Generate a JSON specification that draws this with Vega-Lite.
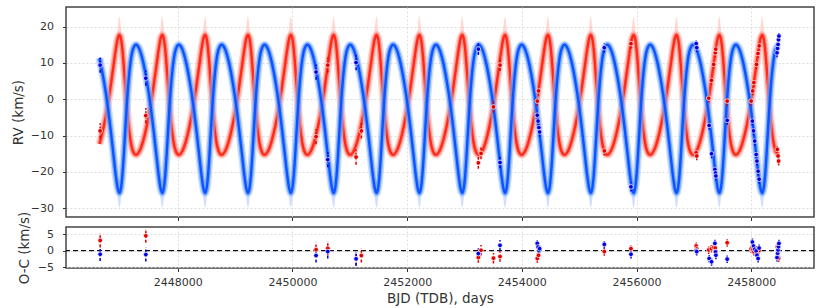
{
"$schema":"https://vega.github.io/schema/vega-lite/v6.json",
"padding":{"left":10,"top":6,"right":16,"bottom":4},
"spacing":10,
"bounds":"flush",
"config":{
 "font":"DejaVu Sans",
 "view":{"stroke":"#444","strokeWidth":1.5},
 "axis":{"labelFont":"DejaVu Sans","labelFontSize":11,"labelColor":"#333","titleFont":"DejaVu Sans","titleFontSize":13.5,"titleFontWeight":"normal","titleColor":"#333","tickColor":"#333","tickSize":3.5,"domain":false,"grid":true,"gridColor":"#d6d6d6","gridDash":[2,2],"gridWidth":0.8},
 "axisX":{"labelPadding":5,"titlePadding":4},
 "axisY":{"labelPadding":9,"titlePadding":7}
},
"datasets":{
"curve":[
{"t":2446634,"b":11.3,"r":-12.3},
{"t":2446647,"b":10.3,"r":-11.5},{"t":2446714,"b":4.8,"r":-7.1},{"t":2446777,"b":-1.8,"r":-1.7},{"t":2446832,"b":-8.9,"r":4.0},{"t":2446880,"b":-15.6,"r":9.4},{"t":2446919,"b":-21.0,"r":13.8},{"t":2446952,"b":-24.5,"r":16.7},
{"t":2446982,"b":-25.8,"r":17.7},{"t":2447008,"b":-24.5,"r":16.7},{"t":2447033,"b":-21.0,"r":13.8},{"t":2447057,"b":-15.6,"r":9.4},{"t":2447082,"b":-8.9,"r":4.0},{"t":2447109,"b":-1.8,"r":-1.7},{"t":2447140,"b":4.8,"r":-7.1},{"t":2447176,"b":10.3,"r":-11.5},{"t":2447219,"b":13.8,"r":-14.3},{"t":2447271,"b":15.0,"r":-15.3},{"t":2447330,"b":13.8,"r":-14.3},{"t":2447395,"b":10.3,"r":-11.5},{"t":2447462,"b":4.8,"r":-7.1},{"t":2447525,"b":-1.8,"r":-1.7},{"t":2447580,"b":-8.9,"r":4.0},{"t":2447628,"b":-15.6,"r":9.4},{"t":2447667,"b":-21.0,"r":13.8},{"t":2447700,"b":-24.5,"r":16.7},
{"t":2447729,"b":-25.8,"r":17.7},{"t":2447755,"b":-24.5,"r":16.7},{"t":2447780,"b":-21.0,"r":13.8},{"t":2447804,"b":-15.6,"r":9.4},{"t":2447829,"b":-8.9,"r":4.0},{"t":2447856,"b":-1.8,"r":-1.7},{"t":2447887,"b":4.8,"r":-7.1},{"t":2447923,"b":10.3,"r":-11.5},{"t":2447966,"b":13.8,"r":-14.3},{"t":2448018,"b":15.0,"r":-15.3},{"t":2448077,"b":13.8,"r":-14.3},{"t":2448142,"b":10.3,"r":-11.5},{"t":2448209,"b":4.8,"r":-7.1},{"t":2448272,"b":-1.8,"r":-1.7},{"t":2448327,"b":-8.9,"r":4.0},{"t":2448375,"b":-15.6,"r":9.4},{"t":2448414,"b":-21.0,"r":13.8},{"t":2448447,"b":-24.5,"r":16.7},
{"t":2448476,"b":-25.8,"r":17.7},{"t":2448502,"b":-24.5,"r":16.7},{"t":2448527,"b":-21.0,"r":13.8},{"t":2448551,"b":-15.6,"r":9.4},{"t":2448576,"b":-8.9,"r":4.0},{"t":2448603,"b":-1.8,"r":-1.7},{"t":2448634,"b":4.8,"r":-7.1},{"t":2448670,"b":10.3,"r":-11.5},{"t":2448713,"b":13.8,"r":-14.3},{"t":2448765,"b":15.0,"r":-15.3},{"t":2448824,"b":13.8,"r":-14.3},{"t":2448889,"b":10.3,"r":-11.5},{"t":2448956,"b":4.8,"r":-7.1},{"t":2449019,"b":-1.8,"r":-1.7},{"t":2449074,"b":-8.9,"r":4.0},{"t":2449122,"b":-15.6,"r":9.4},{"t":2449161,"b":-21.0,"r":13.8},{"t":2449194,"b":-24.5,"r":16.7},
{"t":2449224,"b":-25.8,"r":17.7},{"t":2449250,"b":-24.5,"r":16.7},{"t":2449275,"b":-21.0,"r":13.8},{"t":2449299,"b":-15.6,"r":9.4},{"t":2449324,"b":-8.9,"r":4.0},{"t":2449351,"b":-1.8,"r":-1.7},{"t":2449382,"b":4.8,"r":-7.1},{"t":2449418,"b":10.3,"r":-11.5},{"t":2449461,"b":13.8,"r":-14.3},{"t":2449513,"b":15.0,"r":-15.3},{"t":2449572,"b":13.8,"r":-14.3},{"t":2449637,"b":10.3,"r":-11.5},{"t":2449704,"b":4.8,"r":-7.1},{"t":2449767,"b":-1.8,"r":-1.7},{"t":2449822,"b":-8.9,"r":4.0},{"t":2449870,"b":-15.6,"r":9.4},{"t":2449909,"b":-21.0,"r":13.8},{"t":2449942,"b":-24.5,"r":16.7},
{"t":2449971,"b":-25.8,"r":17.7},{"t":2449997,"b":-24.5,"r":16.7},{"t":2450022,"b":-21.0,"r":13.8},{"t":2450046,"b":-15.6,"r":9.4},{"t":2450071,"b":-8.9,"r":4.0},{"t":2450098,"b":-1.8,"r":-1.7},{"t":2450129,"b":4.8,"r":-7.1},{"t":2450165,"b":10.3,"r":-11.5},{"t":2450208,"b":13.8,"r":-14.3},{"t":2450260,"b":15.0,"r":-15.3},{"t":2450319,"b":13.8,"r":-14.3},{"t":2450384,"b":10.3,"r":-11.5},{"t":2450451,"b":4.8,"r":-7.1},{"t":2450514,"b":-1.8,"r":-1.7},{"t":2450569,"b":-8.9,"r":4.0},{"t":2450617,"b":-15.6,"r":9.4},{"t":2450656,"b":-21.0,"r":13.8},{"t":2450689,"b":-24.5,"r":16.7},
{"t":2450718,"b":-25.8,"r":17.7},{"t":2450744,"b":-24.5,"r":16.7},{"t":2450769,"b":-21.0,"r":13.8},{"t":2450793,"b":-15.6,"r":9.4},{"t":2450818,"b":-8.9,"r":4.0},{"t":2450845,"b":-1.8,"r":-1.7},{"t":2450876,"b":4.8,"r":-7.1},{"t":2450912,"b":10.3,"r":-11.5},{"t":2450955,"b":13.8,"r":-14.3},{"t":2451007,"b":15.0,"r":-15.3},{"t":2451066,"b":13.8,"r":-14.3},{"t":2451131,"b":10.3,"r":-11.5},{"t":2451198,"b":4.8,"r":-7.1},{"t":2451261,"b":-1.8,"r":-1.7},{"t":2451316,"b":-8.9,"r":4.0},{"t":2451364,"b":-15.6,"r":9.4},{"t":2451403,"b":-21.0,"r":13.8},{"t":2451436,"b":-24.5,"r":16.7},
{"t":2451466,"b":-25.8,"r":17.7},{"t":2451492,"b":-24.5,"r":16.7},{"t":2451517,"b":-21.0,"r":13.8},{"t":2451541,"b":-15.6,"r":9.4},{"t":2451566,"b":-8.9,"r":4.0},{"t":2451593,"b":-1.8,"r":-1.7},{"t":2451624,"b":4.8,"r":-7.1},{"t":2451660,"b":10.3,"r":-11.5},{"t":2451703,"b":13.8,"r":-14.3},{"t":2451755,"b":15.0,"r":-15.3},{"t":2451814,"b":13.8,"r":-14.3},{"t":2451879,"b":10.3,"r":-11.5},{"t":2451946,"b":4.8,"r":-7.1},{"t":2452009,"b":-1.8,"r":-1.7},{"t":2452064,"b":-8.9,"r":4.0},{"t":2452112,"b":-15.6,"r":9.4},{"t":2452151,"b":-21.0,"r":13.8},{"t":2452184,"b":-24.5,"r":16.7},
{"t":2452213,"b":-25.8,"r":17.7},{"t":2452239,"b":-24.5,"r":16.7},{"t":2452264,"b":-21.0,"r":13.8},{"t":2452288,"b":-15.6,"r":9.4},{"t":2452313,"b":-8.9,"r":4.0},{"t":2452340,"b":-1.8,"r":-1.7},{"t":2452371,"b":4.8,"r":-7.1},{"t":2452407,"b":10.3,"r":-11.5},{"t":2452450,"b":13.8,"r":-14.3},{"t":2452502,"b":15.0,"r":-15.3},{"t":2452561,"b":13.8,"r":-14.3},{"t":2452626,"b":10.3,"r":-11.5},{"t":2452693,"b":4.8,"r":-7.1},{"t":2452756,"b":-1.8,"r":-1.7},{"t":2452811,"b":-8.9,"r":4.0},{"t":2452859,"b":-15.6,"r":9.4},{"t":2452898,"b":-21.0,"r":13.8},{"t":2452931,"b":-24.5,"r":16.7},
{"t":2452960,"b":-25.8,"r":17.7},{"t":2452986,"b":-24.5,"r":16.7},{"t":2453011,"b":-21.0,"r":13.8},{"t":2453035,"b":-15.6,"r":9.4},{"t":2453060,"b":-8.9,"r":4.0},{"t":2453087,"b":-1.8,"r":-1.7},{"t":2453118,"b":4.8,"r":-7.1},{"t":2453154,"b":10.3,"r":-11.5},{"t":2453197,"b":13.8,"r":-14.3},{"t":2453249,"b":15.0,"r":-15.3},{"t":2453308,"b":13.8,"r":-14.3},{"t":2453373,"b":10.3,"r":-11.5},{"t":2453440,"b":4.8,"r":-7.1},{"t":2453503,"b":-1.8,"r":-1.7},{"t":2453558,"b":-8.9,"r":4.0},{"t":2453606,"b":-15.6,"r":9.4},{"t":2453645,"b":-21.0,"r":13.8},{"t":2453678,"b":-24.5,"r":16.7},
{"t":2453707,"b":-25.8,"r":17.7},{"t":2453733,"b":-24.5,"r":16.7},{"t":2453758,"b":-21.0,"r":13.8},{"t":2453782,"b":-15.6,"r":9.4},{"t":2453807,"b":-8.9,"r":4.0},{"t":2453834,"b":-1.8,"r":-1.7},{"t":2453865,"b":4.8,"r":-7.1},{"t":2453901,"b":10.3,"r":-11.5},{"t":2453944,"b":13.8,"r":-14.3},{"t":2453996,"b":15.0,"r":-15.3},{"t":2454055,"b":13.8,"r":-14.3},{"t":2454120,"b":10.3,"r":-11.5},{"t":2454187,"b":4.8,"r":-7.1},{"t":2454250,"b":-1.8,"r":-1.7},{"t":2454305,"b":-8.9,"r":4.0},{"t":2454353,"b":-15.6,"r":9.4},{"t":2454392,"b":-21.0,"r":13.8},{"t":2454425,"b":-24.5,"r":16.7},
{"t":2454455,"b":-25.8,"r":17.7},{"t":2454481,"b":-24.5,"r":16.7},{"t":2454506,"b":-21.0,"r":13.8},{"t":2454530,"b":-15.6,"r":9.4},{"t":2454555,"b":-8.9,"r":4.0},{"t":2454582,"b":-1.8,"r":-1.7},{"t":2454613,"b":4.8,"r":-7.1},{"t":2454649,"b":10.3,"r":-11.5},{"t":2454692,"b":13.8,"r":-14.3},{"t":2454744,"b":15.0,"r":-15.3},{"t":2454803,"b":13.8,"r":-14.3},{"t":2454868,"b":10.3,"r":-11.5},{"t":2454935,"b":4.8,"r":-7.1},{"t":2454998,"b":-1.8,"r":-1.7},{"t":2455053,"b":-8.9,"r":4.0},{"t":2455101,"b":-15.6,"r":9.4},{"t":2455140,"b":-21.0,"r":13.8},{"t":2455173,"b":-24.5,"r":16.7},
{"t":2455202,"b":-25.8,"r":17.7},{"t":2455228,"b":-24.5,"r":16.7},{"t":2455253,"b":-21.0,"r":13.8},{"t":2455277,"b":-15.6,"r":9.4},{"t":2455302,"b":-8.9,"r":4.0},{"t":2455329,"b":-1.8,"r":-1.7},{"t":2455360,"b":4.8,"r":-7.1},{"t":2455396,"b":10.3,"r":-11.5},{"t":2455439,"b":13.8,"r":-14.3},{"t":2455491,"b":15.0,"r":-15.3},{"t":2455550,"b":13.8,"r":-14.3},{"t":2455615,"b":10.3,"r":-11.5},{"t":2455682,"b":4.8,"r":-7.1},{"t":2455745,"b":-1.8,"r":-1.7},{"t":2455800,"b":-8.9,"r":4.0},{"t":2455848,"b":-15.6,"r":9.4},{"t":2455887,"b":-21.0,"r":13.8},{"t":2455920,"b":-24.5,"r":16.7},
{"t":2455949,"b":-25.8,"r":17.7},{"t":2455975,"b":-24.5,"r":16.7},{"t":2456000,"b":-21.0,"r":13.8},{"t":2456024,"b":-15.6,"r":9.4},{"t":2456049,"b":-8.9,"r":4.0},{"t":2456076,"b":-1.8,"r":-1.7},{"t":2456107,"b":4.8,"r":-7.1},{"t":2456143,"b":10.3,"r":-11.5},{"t":2456186,"b":13.8,"r":-14.3},{"t":2456238,"b":15.0,"r":-15.3},{"t":2456297,"b":13.8,"r":-14.3},{"t":2456362,"b":10.3,"r":-11.5},{"t":2456429,"b":4.8,"r":-7.1},{"t":2456492,"b":-1.8,"r":-1.7},{"t":2456547,"b":-8.9,"r":4.0},{"t":2456595,"b":-15.6,"r":9.4},{"t":2456634,"b":-21.0,"r":13.8},{"t":2456667,"b":-24.5,"r":16.7},
{"t":2456697,"b":-25.8,"r":17.7},{"t":2456723,"b":-24.5,"r":16.7},{"t":2456748,"b":-21.0,"r":13.8},{"t":2456772,"b":-15.6,"r":9.4},{"t":2456797,"b":-8.9,"r":4.0},{"t":2456824,"b":-1.8,"r":-1.7},{"t":2456855,"b":4.8,"r":-7.1},{"t":2456891,"b":10.3,"r":-11.5},{"t":2456934,"b":13.8,"r":-14.3},{"t":2456986,"b":15.0,"r":-15.3},{"t":2457045,"b":13.8,"r":-14.3},{"t":2457110,"b":10.3,"r":-11.5},{"t":2457177,"b":4.8,"r":-7.1},{"t":2457240,"b":-1.8,"r":-1.7},{"t":2457295,"b":-8.9,"r":4.0},{"t":2457343,"b":-15.6,"r":9.4},{"t":2457382,"b":-21.0,"r":13.8},{"t":2457415,"b":-24.5,"r":16.7},
{"t":2457444,"b":-25.8,"r":17.7},{"t":2457470,"b":-24.5,"r":16.7},{"t":2457495,"b":-21.0,"r":13.8},{"t":2457519,"b":-15.6,"r":9.4},{"t":2457544,"b":-8.9,"r":4.0},{"t":2457571,"b":-1.8,"r":-1.7},{"t":2457602,"b":4.8,"r":-7.1},{"t":2457638,"b":10.3,"r":-11.5},{"t":2457681,"b":13.8,"r":-14.3},{"t":2457733,"b":15.0,"r":-15.3},{"t":2457792,"b":13.8,"r":-14.3},{"t":2457857,"b":10.3,"r":-11.5},{"t":2457924,"b":4.8,"r":-7.1},{"t":2457987,"b":-1.8,"r":-1.7},{"t":2458042,"b":-8.9,"r":4.0},{"t":2458090,"b":-15.6,"r":9.4},{"t":2458129,"b":-21.0,"r":13.8},{"t":2458162,"b":-24.5,"r":16.7},
{"t":2458191,"b":-25.8,"r":17.7},{"t":2458217,"b":-24.5,"r":16.7},{"t":2458242,"b":-21.0,"r":13.8},{"t":2458266,"b":-15.6,"r":9.4},{"t":2458291,"b":-8.9,"r":4.0},{"t":2458318,"b":-1.8,"r":-1.7},{"t":2458349,"b":4.8,"r":-7.1},{"t":2458385,"b":10.3,"r":-11.5},{"t":2458428,"b":13.8,"r":-14.3},{"t":2458480,"b":15.0,"r":-15.3}
],
"env":[
{"c":0,"t":2446920,"r":13.8,"rh":14.6,"b":-21.0,"bl":-21.8},{"c":0,"t":2446953,"r":16.7,"rh":19.8,"b":-24.5,"bl":-27.5},{"c":0,"t":2446982,"r":17.7,"rh":22.8,"b":-25.8,"bl":-29.8},{"c":0,"t":2447008,"r":16.7,"rh":19.8,"b":-24.5,"bl":-27.5},{"c":0,"t":2447033,"r":13.8,"rh":14.6,"b":-21.0,"bl":-21.8},
{"c":1,"t":2447667,"r":13.8,"rh":14.6,"b":-21.0,"bl":-21.8},{"c":1,"t":2447700,"r":16.7,"rh":19.8,"b":-24.5,"bl":-27.5},{"c":1,"t":2447729,"r":17.7,"rh":22.8,"b":-25.8,"bl":-29.8},{"c":1,"t":2447755,"r":16.7,"rh":19.8,"b":-24.5,"bl":-27.5},{"c":1,"t":2447780,"r":13.8,"rh":14.6,"b":-21.0,"bl":-21.8},
{"c":2,"t":2448414,"r":13.8,"rh":14.6,"b":-21.0,"bl":-21.8},{"c":2,"t":2448447,"r":16.7,"rh":19.8,"b":-24.5,"bl":-27.5},{"c":2,"t":2448476,"r":17.7,"rh":22.8,"b":-25.8,"bl":-29.8},{"c":2,"t":2448502,"r":16.7,"rh":19.8,"b":-24.5,"bl":-27.5},{"c":2,"t":2448527,"r":13.8,"rh":14.6,"b":-21.0,"bl":-21.8},
{"c":3,"t":2449162,"r":13.8,"rh":14.6,"b":-21.0,"bl":-21.8},{"c":3,"t":2449195,"r":16.7,"rh":19.8,"b":-24.5,"bl":-27.5},{"c":3,"t":2449224,"r":17.7,"rh":22.8,"b":-25.8,"bl":-29.8},{"c":3,"t":2449250,"r":16.7,"rh":19.8,"b":-24.5,"bl":-27.5},{"c":3,"t":2449275,"r":13.8,"rh":14.6,"b":-21.0,"bl":-21.8},
{"c":4,"t":2449909,"r":13.8,"rh":14.6,"b":-21.0,"bl":-21.8},{"c":4,"t":2449942,"r":16.7,"rh":19.8,"b":-24.5,"bl":-27.5},{"c":4,"t":2449971,"r":17.7,"rh":22.8,"b":-25.8,"bl":-29.8},{"c":4,"t":2449997,"r":16.7,"rh":19.8,"b":-24.5,"bl":-27.5},{"c":4,"t":2450022,"r":13.8,"rh":14.6,"b":-21.0,"bl":-21.8},
{"c":5,"t":2450656,"r":13.8,"rh":14.6,"b":-21.0,"bl":-21.8},{"c":5,"t":2450689,"r":16.7,"rh":19.8,"b":-24.5,"bl":-27.5},{"c":5,"t":2450718,"r":17.7,"rh":22.8,"b":-25.8,"bl":-29.8},{"c":5,"t":2450744,"r":16.7,"rh":19.8,"b":-24.5,"bl":-27.5},{"c":5,"t":2450769,"r":13.8,"rh":14.6,"b":-21.0,"bl":-21.8},
{"c":6,"t":2451404,"r":13.8,"rh":14.6,"b":-21.0,"bl":-21.8},{"c":6,"t":2451437,"r":16.7,"rh":19.8,"b":-24.5,"bl":-27.5},{"c":6,"t":2451466,"r":17.7,"rh":22.8,"b":-25.8,"bl":-29.8},{"c":6,"t":2451492,"r":16.7,"rh":19.8,"b":-24.5,"bl":-27.5},{"c":6,"t":2451517,"r":13.8,"rh":14.6,"b":-21.0,"bl":-21.8},
{"c":7,"t":2452151,"r":13.8,"rh":14.6,"b":-21.0,"bl":-21.8},{"c":7,"t":2452184,"r":16.7,"rh":19.8,"b":-24.5,"bl":-27.5},{"c":7,"t":2452213,"r":17.7,"rh":22.8,"b":-25.8,"bl":-29.8},{"c":7,"t":2452239,"r":16.7,"rh":19.8,"b":-24.5,"bl":-27.5},{"c":7,"t":2452264,"r":13.8,"rh":14.6,"b":-21.0,"bl":-21.8},
{"c":8,"t":2452898,"r":13.8,"rh":14.6,"b":-21.0,"bl":-21.8},{"c":8,"t":2452931,"r":16.7,"rh":19.8,"b":-24.5,"bl":-27.5},{"c":8,"t":2452960,"r":17.7,"rh":22.8,"b":-25.8,"bl":-29.8},{"c":8,"t":2452986,"r":16.7,"rh":19.8,"b":-24.5,"bl":-27.5},{"c":8,"t":2453011,"r":13.8,"rh":14.6,"b":-21.0,"bl":-21.8},
{"c":9,"t":2453645,"r":13.8,"rh":14.6,"b":-21.0,"bl":-21.8},{"c":9,"t":2453678,"r":16.7,"rh":19.8,"b":-24.5,"bl":-27.5},{"c":9,"t":2453707,"r":17.7,"rh":22.8,"b":-25.8,"bl":-29.8},{"c":9,"t":2453733,"r":16.7,"rh":19.8,"b":-24.5,"bl":-27.5},{"c":9,"t":2453758,"r":13.8,"rh":14.6,"b":-21.0,"bl":-21.8},
{"c":10,"t":2454393,"r":13.8,"rh":14.6,"b":-21.0,"bl":-21.8},{"c":10,"t":2454426,"r":16.7,"rh":19.8,"b":-24.5,"bl":-27.5},{"c":10,"t":2454455,"r":17.7,"rh":22.8,"b":-25.8,"bl":-29.8},{"c":10,"t":2454481,"r":16.7,"rh":19.8,"b":-24.5,"bl":-27.5},{"c":10,"t":2454506,"r":13.8,"rh":14.6,"b":-21.0,"bl":-21.8},
{"c":11,"t":2455140,"r":13.8,"rh":14.6,"b":-21.0,"bl":-21.8},{"c":11,"t":2455173,"r":16.7,"rh":19.8,"b":-24.5,"bl":-27.5},{"c":11,"t":2455202,"r":17.7,"rh":22.8,"b":-25.8,"bl":-29.8},{"c":11,"t":2455228,"r":16.7,"rh":19.8,"b":-24.5,"bl":-27.5},{"c":11,"t":2455253,"r":13.8,"rh":14.6,"b":-21.0,"bl":-21.8},
{"c":12,"t":2455887,"r":13.8,"rh":14.6,"b":-21.0,"bl":-21.8},{"c":12,"t":2455920,"r":16.7,"rh":19.8,"b":-24.5,"bl":-27.5},{"c":12,"t":2455949,"r":17.7,"rh":22.8,"b":-25.8,"bl":-29.8},{"c":12,"t":2455975,"r":16.7,"rh":19.8,"b":-24.5,"bl":-27.5},{"c":12,"t":2456000,"r":13.8,"rh":14.6,"b":-21.0,"bl":-21.8},
{"c":13,"t":2456635,"r":13.8,"rh":14.6,"b":-21.0,"bl":-21.8},{"c":13,"t":2456668,"r":16.7,"rh":19.8,"b":-24.5,"bl":-27.5},{"c":13,"t":2456697,"r":17.7,"rh":22.8,"b":-25.8,"bl":-29.8},{"c":13,"t":2456723,"r":16.7,"rh":19.8,"b":-24.5,"bl":-27.5},{"c":13,"t":2456748,"r":13.8,"rh":14.6,"b":-21.0,"bl":-21.8},
{"c":14,"t":2457382,"r":13.8,"rh":14.6,"b":-21.0,"bl":-21.8},{"c":14,"t":2457415,"r":16.7,"rh":19.8,"b":-24.5,"bl":-27.5},{"c":14,"t":2457444,"r":17.7,"rh":22.8,"b":-25.8,"bl":-29.8},{"c":14,"t":2457470,"r":16.7,"rh":19.8,"b":-24.5,"bl":-27.5},{"c":14,"t":2457495,"r":13.8,"rh":14.6,"b":-21.0,"bl":-21.8},
{"c":15,"t":2458129,"r":13.8,"rh":14.6,"b":-21.0,"bl":-21.8},{"c":15,"t":2458162,"r":16.7,"rh":19.8,"b":-24.5,"bl":-27.5},{"c":15,"t":2458191,"r":17.7,"rh":22.8,"b":-25.8,"bl":-29.8},{"c":15,"t":2458217,"r":16.7,"rh":19.8,"b":-24.5,"bl":-27.5},{"c":15,"t":2458242,"r":13.8,"rh":14.6,"b":-21.0,"bl":-21.8}
],
"obsb":[
{"t":2446646,"v":9.4,"oc":-1.1,"e":2.1},{"t":2447442,"v":5.8,"oc":-1.2,"e":2.1},{"t":2450411,"v":7.5,"oc":-1.5,"e":2.1},{"t":2450615,"v":-16.6,"oc":-0.3,"e":2.1},{"t":2451109,"v":10.1,"oc":-2.5,"e":2.1},
{"t":2453241,"v":13.8,"oc":-0.9,"e":1.6},{"t":2453619,"v":-17.4,"oc":1.6,"e":1.6},
{"t":2454269,"v":-4.4,"oc":2.2,"e":1.3},{"t":2454283,"v":-6.0,"oc":1.1,"e":1.3},{"t":2454297,"v":-7.8,"oc":0.0,"e":1.3},{"t":2454310,"v":-9.0,"oc":0.6,"e":1.3},
{"t":2455438,"v":14.2,"oc":1.9,"e":1.3},{"t":2455903,"v":-24.1,"oc":-1.1,"e":1.3},
{"t":2457040,"v":15.3,"oc":0.0,"e":1.2},{"t":2457050,"v":14.2,"oc":-0.3,"e":1.2},
{"t":2457267,"v":-7.2,"oc":-2.4,"e":1.2},{"t":2457309,"v":-15.0,"oc":-3.4,"e":1.2},{"t":2457367,"v":-19.3,"oc":2.2,"e":1.2},{"t":2457377,"v":-20.3,"oc":-0.4,"e":1.2},{"t":2457384,"v":-21.1,"oc":-1.4,"e":1.2},
{"t":2457581,"v":-5.8,"oc":-2.6,"e":1.2},
{"t":2458020,"v":-6.0,"oc":2.6,"e":1.2},{"t":2458040,"v":-8.7,"oc":1.4,"e":1.2},{"t":2458061,"v":-11.5,"oc":0.4,"e":1.2},{"t":2458087,"v":-15.2,"oc":-0.1,"e":1.2},{"t":2458100,"v":-17.0,"oc":-1.4,"e":1.2},{"t":2458120,"v":-19.8,"oc":-2.4,"e":1.2},{"t":2458138,"v":-22.0,"oc":0.8,"e":1.2},
{"t":2458450,"v":12.8,"oc":-2.1,"e":1.2},{"t":2458460,"v":14.0,"oc":-0.8,"e":1.2},{"t":2458468,"v":15.1,"oc":0.2,"e":1.2},{"t":2458476,"v":16.4,"oc":1.2,"e":1.2},{"t":2458484,"v":17.4,"oc":2.2,"e":1.2}
],
"obsr":[
{"t":2446646,"v":-8.7,"oc":3.1,"e":2.1},{"t":2447442,"v":-4.5,"oc":4.5,"e":2.1},{"t":2450411,"v":-10.3,"oc":0.3,"e":2.1},{"t":2450615,"v":9.4,"oc":0.7,"e":2.1},{"t":2451109,"v":-15.9,"oc":-2.5,"e":2.1},{"t":2451201,"v":-8.7,"oc":-1.5,"e":2.1},
{"t":2453241,"v":-17.5,"oc":-2.1,"e":1.6},{"t":2453288,"v":-14.9,"oc":0.1,"e":1.6},{"t":2453505,"v":-2.1,"oc":-2.3,"e":1.6},{"t":2453619,"v":9.4,"oc":-1.8,"e":1.6},
{"t":2454269,"v":-0.5,"oc":-2.4,"e":1.3},{"t":2454290,"v":2.3,"oc":-1.4,"e":1.3},
{"t":2455438,"v":-14.2,"oc":-0.3,"e":1.3},{"t":2455903,"v":15.3,"oc":0.6,"e":1.3},
{"t":2457040,"v":-14.7,"oc":1.4,"e":1.2},{"t":2457050,"v":-15.6,"oc":0.5,"e":1.2},
{"t":2457259,"v":0.3,"oc":0.2,"e":1.2},{"t":2457306,"v":5.2,"oc":0.6,"e":1.2},{"t":2457345,"v":9.6,"oc":1.0,"e":1.2},{"t":2457373,"v":12.8,"oc":0.8,"e":1.2},{"t":2457382,"v":13.8,"oc":-0.3,"e":1.2},
{"t":2457581,"v":-0.5,"oc":2.4,"e":1.2},
{"t":2457999,"v":-0.5,"oc":0.5,"e":1.2},{"t":2458026,"v":2.3,"oc":0.2,"e":1.2},{"t":2458047,"v":4.6,"oc":-0.3,"e":1.2},{"t":2458092,"v":9.6,"oc":0.3,"e":1.2},{"t":2458118,"v":12.6,"oc":-0.5,"e":1.2},{"t":2458139,"v":14.7,"oc":0.1,"e":1.2},
{"t":2458455,"v":-13.8,"oc":1.2,"e":1.2},{"t":2458468,"v":-15.6,"oc":-0.6,"e":1.2},{"t":2458478,"v":-17.0,"oc":-2.3,"e":1.2}
]
},
"vconcat":[
{
 "width":748,"height":210,
 "encoding":{"x":{"field":"t","type":"quantitative","scale":{"domain":[2446050,2459095],"nice":false,"zero":false},"axis":{"values":[2448000,2450000,2452000,2454000,2456000,2458000],"labels":false,"title":null,"minExtent":0,"maxExtent":4}}},
 "layer":[
  {"data":{"name":"env"},"mark":{"type":"area","color":"#ff9a90","opacity":0.4,"interpolate":"monotone"},
   "encoding":{"y":{"field":"r","type":"quantitative","title":"RV (km/s)","scale":{"domain":[-32.4,25.4],"nice":false,"zero":false},"axis":{"values":[-30,-20,-10,0,10,20],"titleX":-41}},"y2":{"field":"rh"},"detail":{"field":"c"}}},
  {"data":{"name":"env"},"mark":{"type":"area","color":"#94bbff","opacity":0.45,"interpolate":"monotone"},
   "encoding":{"y":{"field":"bl","type":"quantitative","title":"RV (km/s)","scale":{"domain":[-32.4,25.4],"nice":false,"zero":false},"axis":{"values":[-30,-20,-10,0,10,20],"titleX":-41}},"y2":{"field":"b"},"detail":{"field":"c"}}},
  {"data":{"name":"curve"},"mark":{"type":"line","color":"#ffa49b","strokeWidth":8,"opacity":0.45,"interpolate":"monotone"},
   "encoding":{"y":{"field":"r","type":"quantitative","title":"RV (km/s)","scale":{"domain":[-32.4,25.4],"nice":false,"zero":false},"axis":{"values":[-30,-20,-10,0,10,20],"titleX":-41}}}},
  {"data":{"name":"curve"},"mark":{"type":"line","color":"#ff6a5c","strokeWidth":5,"opacity":0.6,"interpolate":"monotone"},
   "encoding":{"y":{"field":"r","type":"quantitative","title":"RV (km/s)","scale":{"domain":[-32.4,25.4],"nice":false,"zero":false},"axis":{"values":[-30,-20,-10,0,10,20],"titleX":-41}}}},
  {"data":{"name":"curve"},"mark":{"type":"line","color":"#ff2a1a","strokeWidth":2.4,"interpolate":"monotone"},
   "encoding":{"y":{"field":"r","type":"quantitative","title":"RV (km/s)","scale":{"domain":[-32.4,25.4],"nice":false,"zero":false},"axis":{"values":[-30,-20,-10,0,10,20],"titleX":-41}}}},
  {"data":{"name":"curve"},"mark":{"type":"line","color":"#9cc0ff","strokeWidth":8,"opacity":0.5,"interpolate":"monotone"},
   "encoding":{"y":{"field":"b","type":"quantitative","title":"RV (km/s)","scale":{"domain":[-32.4,25.4],"nice":false,"zero":false},"axis":{"values":[-30,-20,-10,0,10,20],"titleX":-41}}}},
  {"data":{"name":"curve"},"mark":{"type":"line","color":"#4f8cff","strokeWidth":5,"opacity":0.65,"interpolate":"monotone"},
   "encoding":{"y":{"field":"b","type":"quantitative","title":"RV (km/s)","scale":{"domain":[-32.4,25.4],"nice":false,"zero":false},"axis":{"values":[-30,-20,-10,0,10,20],"titleX":-41}}}},
  {"data":{"name":"curve"},"mark":{"type":"line","color":"#0a55ff","strokeWidth":2.4,"interpolate":"monotone"},
   "encoding":{"y":{"field":"b","type":"quantitative","title":"RV (km/s)","scale":{"domain":[-32.4,25.4],"nice":false,"zero":false},"axis":{"values":[-30,-20,-10,0,10,20],"titleX":-41}}}},
  {"data":{"name":"obsr"},"mark":{"type":"errorbar","color":"#e60000","rule":{"strokeDash":[3,1.5],"strokeWidth":1.5}},
   "encoding":{"y":{"field":"v","type":"quantitative","title":"RV (km/s)","scale":{"domain":[-32.4,25.4],"nice":false,"zero":false},"axis":{"values":[-30,-20,-10,0,10,20],"titleX":-41}},"yError":{"field":"e"}}},
  {"data":{"name":"obsb"},"mark":{"type":"errorbar","color":"#0000e6","rule":{"strokeDash":[3,1.5],"strokeWidth":1.5}},
   "encoding":{"y":{"field":"v","type":"quantitative","title":"RV (km/s)","scale":{"domain":[-32.4,25.4],"nice":false,"zero":false},"axis":{"values":[-30,-20,-10,0,10,20],"titleX":-41}},"yError":{"field":"e"}}},
  {"data":{"name":"obsr"},"mark":{"type":"circle","size":22,"color":"#e60000","opacity":1,"stroke":"white","strokeWidth":0.7},
   "encoding":{"y":{"field":"v","type":"quantitative","title":"RV (km/s)","scale":{"domain":[-32.4,25.4],"nice":false,"zero":false},"axis":{"values":[-30,-20,-10,0,10,20],"titleX":-41}}}},
  {"data":{"name":"obsb"},"mark":{"type":"circle","size":22,"color":"#0000e6","opacity":1,"stroke":"white","strokeWidth":0.7},
   "encoding":{"y":{"field":"v","type":"quantitative","title":"RV (km/s)","scale":{"domain":[-32.4,25.4],"nice":false,"zero":false},"axis":{"values":[-30,-20,-10,0,10,20],"titleX":-41}}}}
 ]
},
{
 "width":748,"height":41,
 "layer":[
  {"mark":{"type":"rule","color":"#111","strokeWidth":1.4,"strokeDash":[5,3]},"data":{"values":[{}]},
   "encoding":{"y":{"datum":0,"type":"quantitative","title":"O-C (km/s)","scale":{"domain":[-5.3,7.2],"nice":false,"zero":false},"axis":{"values":[-5,0,5],"titleX":-35}}}},
  {"data":{"name":"obsr"},"mark":{"type":"errorbar","color":"#e60000","rule":{"strokeDash":[3,1.5],"strokeWidth":1.5}},
   "encoding":{"x":{"field":"t","type":"quantitative","title":"BJD (TDB), days","scale":{"domain":[2446050,2459095],"nice":false,"zero":false},"axis":{"values":[2448000,2450000,2452000,2454000,2456000,2458000],"format":"d"}},
    "y":{"field":"oc","type":"quantitative","title":"O-C (km/s)","scale":{"domain":[-5.3,7.2],"nice":false,"zero":false},"axis":{"values":[-5,0,5],"titleX":-35}},"yError":{"field":"e"}}},
  {"data":{"name":"obsb"},"mark":{"type":"errorbar","color":"#0000e6","rule":{"strokeDash":[3,1.5],"strokeWidth":1.5}},
   "encoding":{"x":{"field":"t","type":"quantitative","title":"BJD (TDB), days","scale":{"domain":[2446050,2459095],"nice":false,"zero":false},"axis":{"values":[2448000,2450000,2452000,2454000,2456000,2458000],"format":"d"}},
    "y":{"field":"oc","type":"quantitative","title":"O-C (km/s)","scale":{"domain":[-5.3,7.2],"nice":false,"zero":false},"axis":{"values":[-5,0,5],"titleX":-35}},"yError":{"field":"e"}}},
  {"data":{"name":"obsr"},"mark":{"type":"circle","size":22,"color":"#e60000","opacity":1,"stroke":"white","strokeWidth":0.7},
   "encoding":{"x":{"field":"t","type":"quantitative","title":"BJD (TDB), days","scale":{"domain":[2446050,2459095],"nice":false,"zero":false},"axis":{"values":[2448000,2450000,2452000,2454000,2456000,2458000],"format":"d"}},
    "y":{"field":"oc","type":"quantitative","title":"O-C (km/s)","scale":{"domain":[-5.3,7.2],"nice":false,"zero":false},"axis":{"values":[-5,0,5],"titleX":-35}}}},
  {"data":{"name":"obsb"},"mark":{"type":"circle","size":22,"color":"#0000e6","opacity":1,"stroke":"white","strokeWidth":0.7},
   "encoding":{"x":{"field":"t","type":"quantitative","title":"BJD (TDB), days","scale":{"domain":[2446050,2459095],"nice":false,"zero":false},"axis":{"values":[2448000,2450000,2452000,2454000,2456000,2458000],"format":"d"}},
    "y":{"field":"oc","type":"quantitative","title":"O-C (km/s)","scale":{"domain":[-5.3,7.2],"nice":false,"zero":false},"axis":{"values":[-5,0,5],"titleX":-35}}}}
 ]
}
]
}
